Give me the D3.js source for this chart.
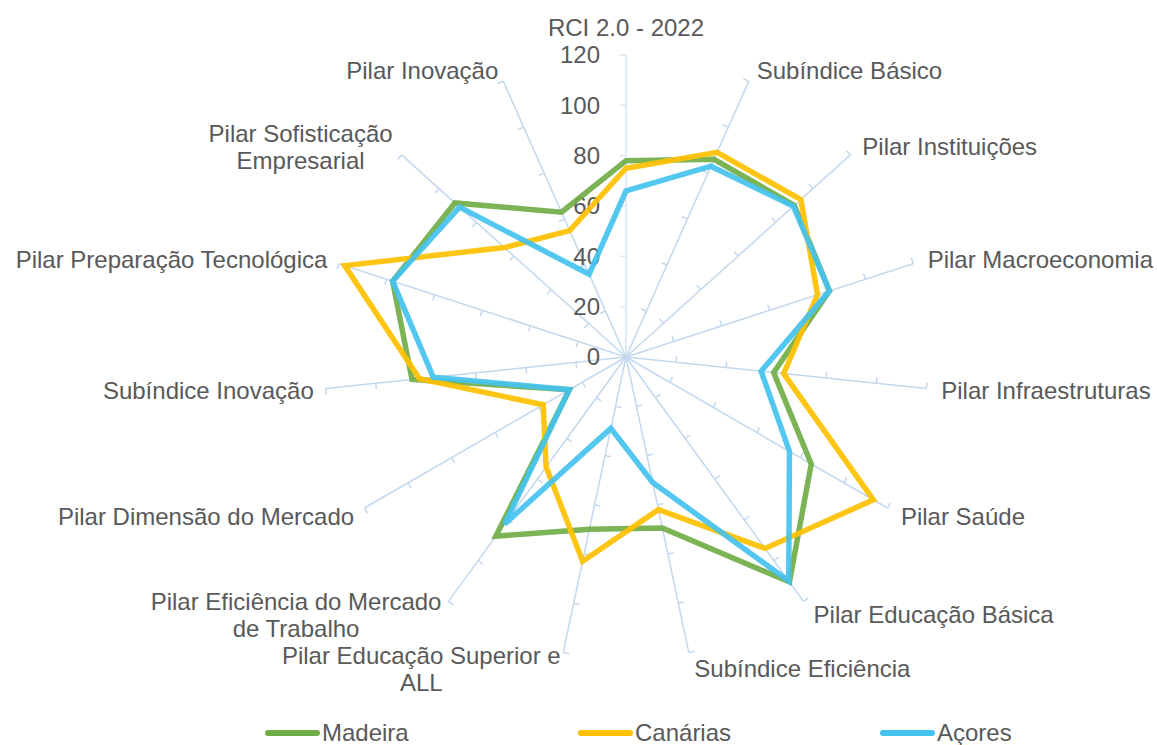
<!DOCTYPE html>
<html>
<head>
<meta charset="utf-8">
<script src="https://cdn.jsdelivr.net/npm/d3@7"></script>
<style>
  html, body { margin: 0; padding: 0; background: #fff; }
  svg { display: block; font-family: "Liberation Sans", Arial, sans-serif; }
</style>
</head>
<body>
<svg id="chart" width="1157" height="745"></svg>
<script>
// ---- data ----
const categories = [
  "RCI 2.0 - 2022",
  "Subíndice Básico",
  "Pilar Instituições",
  "Pilar Macroeconomia",
  "Pilar Infraestruturas",
  "Pilar Saúde",
  "Pilar Educação Básica",
  "Subíndice Eficiência",
  "Pilar Educação Superior e\nALL",
  "Pilar Eficiência do Mercado\nde Trabalho",
  "Pilar Dimensão do Mercado",
  "Subíndice Inovação",
  "Pilar Preparação Tecnológica",
  "Pilar Sofisticação\nEmpresarial",
  "Pilar Inovação"
];
const seriesNames = ["Madeira", "Canárias", "Açores"];
const madeira  = [78, 86, 90, 85, 59, 85, 110.5, 69.5, 70, 88, 26, 85.5, 97.5, 91.5, 63];
const canarias = [75, 89, 93.5, 80, 63, 113.5, 94, 62, 83, 54, 38, 82.5, 117.5, 65, 55];
const acores   = [66, 83, 89.5, 85, 54, 75, 110, 51, 29, 82, 26, 77, 97.5, 89, 36];
const tickValues = [0, 20, 40, 60, 80, 100, 120];

// ---- styles / layout ----
const colors = ["#70ad47", "#ffc000", "#44c2ef"];
const textColor = "#595959";
const spokeColor = "#c3d8ee";
const fontSize = 24;
const cx = 626, cy = 357, R = 302;
const legendXs = [265, 578, 880];

const svg = d3.select("#chart");
const n = categories.length;
const angle = d3.scaleLinear().domain([0, n]).range([0, 2 * Math.PI]);
const r = d3.scaleLinear().domain([0, 120]).range([0, R]);

const g = svg.append("g").attr("transform", `translate(${cx},${cy})`);

// spokes with tick marks
categories.forEach((c, i) => {
  const a = angle(i);
  const s = Math.sin(a), co = Math.cos(a);
  const col = i === 0 ? "#d9e6f4" : spokeColor;
  g.append("line")
    .attr("x1", 0).attr("y1", 0)
    .attr("x2", r(120) * s).attr("y2", -r(120) * co)
    .attr("stroke", col)
    .attr("stroke-width", 1.5);
  const px = -co, py = -s;
  tickValues.slice(1).forEach(v => {
    const x = r(v) * s, y = -r(v) * co;
    g.append("line")
      .attr("x1", x).attr("y1", y)
      .attr("x2", x + px * 6).attr("y2", y + py * 6)
      .attr("stroke", col)
      .attr("stroke-width", 1.5);
  });
});

// value axis labels
tickValues.forEach(v => {
  g.append("text")
    .attr("x", -26).attr("y", -r(v))
    .attr("dy", "0.35em")
    .attr("text-anchor", "end")
    .attr("fill", textColor)
    .attr("font-size", fontSize)
    .text(v);
});

// series
const allSeries = [madeira, canarias, acores];
const line = d3.lineRadial()
  .angle((d, i) => angle(i))
  .radius(d => r(d))
  .curve(d3.curveLinearClosed);

allSeries.forEach((vals, k) => {
  g.append("path")
    .datum(vals)
    .attr("d", line)
    .attr("fill", "none")
    .attr("stroke", colors[k])
    .attr("stroke-width", 5.5)
    .attr("stroke-linejoin", "miter")
    .attr("stroke-opacity", 0.92);
});

// category labels
const pad = 12;
const lineH = 27;
categories.forEach((c, i) => {
  const a = angle(i);
  const s = Math.sin(a), co = Math.cos(a);
  const ax = (R + pad) * s, ay = -(R + pad) * co;
  const lines = c.split("\n");
  let anchor = "middle";
  if (s > 0.1) anchor = "start";
  else if (s < -0.1) anchor = "end";
  const lab = g.append("g");
  const texts = lines.map((t, j) => lab.append("text")
    .attr("fill", textColor)
    .attr("font-size", fontSize)
    .attr("dy", "0.35em")
    .attr("y", ay + (j - (lines.length - 1) / 2) * lineH)
    .text(t));
  const widths = texts.map(t => t.node().getComputedTextLength());
  const bw = d3.max(widths);
  let center;
  if (anchor === "start") center = ax + 3 + bw / 2;
  else if (anchor === "end") center = ax - bw / 2;
  else center = ax;
  const yShift = i === 0 ? -15 : Math.max(0, -co) * 5;
  texts.forEach(t => t.attr("x", center).attr("text-anchor", "middle")
    .attr("y", +t.attr("y") + yShift));
});

// legend
const legendY = 733;
seriesNames.forEach((name, k) => {
  const x = legendXs[k];
  svg.append("line")
    .attr("x1", x + 3).attr("x2", x + 52)
    .attr("y1", legendY).attr("y2", legendY)
    .attr("stroke", colors[k])
    .attr("stroke-width", 6)
    .attr("stroke-linecap", "round");
  svg.append("text")
    .attr("x", x + 57).attr("y", legendY)
    .attr("dy", "0.35em")
    .attr("fill", textColor)
    .attr("font-size", fontSize)
    .text(name);
});
</script>
</body>
</html>
